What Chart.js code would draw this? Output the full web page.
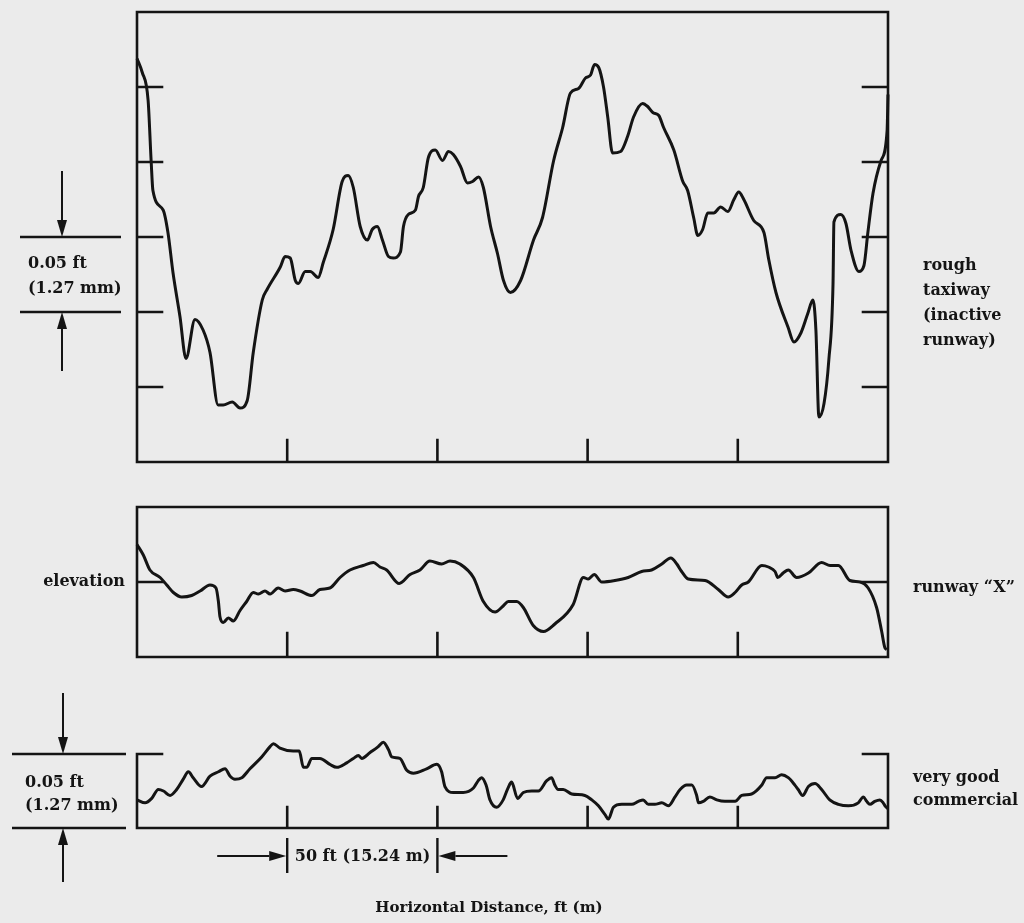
<!DOCTYPE html>
<html>
<head>
<meta charset="utf-8">
<title>Pavement profiles</title>
<script src="https://cdn.jsdelivr.net/npm/chart.js@4.4.1/dist/chart.umd.min.js"></script>
<style>
  html, body { margin: 0; padding: 0; background: #ebebeb; }
  #wrap { position: relative; width: 1024px; height: 923px; overflow: hidden; }
  canvas { position: absolute; left: 0; top: 0; }
  .lbl { position: absolute; font-family: "DejaVu Serif", serif; font-weight: bold; font-size: 16px; line-height: 18px; color: #141414; white-space: nowrap; }
</style>
</head>
<body>
<div id="wrap">
  <canvas id="roughChart" width="1024" height="923"></canvas>
  <canvas id="runwayChart" width="1024" height="923"></canvas>
  <canvas id="commercialChart" width="1024" height="923"></canvas>

  <div class="lbl" style="left:28px; top:254px;">0.05 ft</div>
  <div class="lbl" style="left:28px; top:279px;">(1.27 mm)</div>
  <div class="lbl" style="left:923px; top:252px; line-height:25px;">rough<br>taxiway<br>(inactive<br>runway)</div>

  <div class="lbl" style="right:899px; top:572px;">elevation</div>
  <div class="lbl" style="left:913px; top:578px;">runway “X”</div>

  <div class="lbl" style="left:25px; top:773px;">0.05 ft</div>
  <div class="lbl" style="left:25px; top:796px;">(1.27 mm)</div>
  <div class="lbl" style="left:913px; top:765px; line-height:23px;">very good<br>commercial</div>

  <div class="lbl" style="left:285px; width:155px; text-align:center; top:847px;">50 ft (15.24 m)</div>
  <div class="lbl" style="left:289px; width:400px; text-align:center; top:898px; font-size:15px;">Horizontal Distance, ft (m)</div>
</div>

<script>
// horizontal distance ticks, ft
const distTicks = [50, 100, 150, 200];

// rough taxiway (inactive runway): distance ft / elevation ft
const roughDist = [
  0, 1.7, 3.7, 4.7, 5.3, 8.7, 10.3, 12.0, 14.3, 16.3,
  19.3, 22.0, 24.3, 27.0, 28.7, 31.7, 34.3, 36.7, 38.7, 41.7,
  43.3, 47.7, 49.3, 51.0, 52.7, 53.7, 56.0, 57.7, 60.3, 62.0,
  65.3, 68.3, 70.3, 72.0, 74.3, 76.7, 78.3, 80.0, 81.7, 83.7,
  85.3, 87.7, 88.7, 90.3, 92.7, 93.7, 95.3, 97.0, 99.3, 101.7,
  103.7, 105.3, 107.7, 110.0, 111.7, 113.7, 115.3, 117.7, 120.0, 122.0,
  124.3, 127.7, 132.0, 135.0, 138.7, 141.7, 144.3, 147.0, 149.3, 151.0,
  152.3, 153.7, 155.3, 156.7, 158.3, 161.0, 163.3, 165.3, 168.3, 170.0,
  171.7, 173.7, 175.3, 178.7, 181.7, 183.3, 185.3, 186.7, 188.3, 190.0,
  192.0, 194.3, 196.7, 198.7, 200.3, 202.0, 205.3, 208.7, 210.3, 212.7,
  216.7, 218.7, 221.0, 223.3, 225.0, 226.0, 227.0, 228.7, 230.3, 231.7,
  232.0, 234.3, 236.0, 237.7, 240.3, 242.0, 243.3, 245.0, 247.7, 249.7,
  250.0
];
const roughElev = [
  0.269, 0.260, 0.241, 0.201, 0.181, 0.168, 0.153, 0.126, 0.097, 0.069,
  0.095, 0.088, 0.073, 0.038, 0.038, 0.040, 0.036, 0.041, 0.073, 0.108,
  0.115, 0.130, 0.137, 0.136, 0.121, 0.119, 0.127, 0.127, 0.123, 0.133,
  0.155, 0.187, 0.191, 0.183, 0.157, 0.148, 0.155, 0.157, 0.148, 0.137,
  0.136, 0.140, 0.157, 0.165, 0.168, 0.177, 0.183, 0.203, 0.208, 0.201,
  0.207, 0.205, 0.197, 0.186, 0.187, 0.190, 0.183, 0.157, 0.139, 0.121,
  0.113, 0.121, 0.148, 0.163, 0.201, 0.223, 0.246, 0.249, 0.256, 0.258,
  0.265, 0.263, 0.250, 0.230, 0.206, 0.207, 0.217, 0.230, 0.239, 0.237,
  0.233, 0.231, 0.223, 0.208, 0.187, 0.181, 0.163, 0.151, 0.155, 0.166,
  0.166, 0.170, 0.167, 0.175, 0.180, 0.175, 0.161, 0.153, 0.135, 0.113,
  0.090, 0.080, 0.086, 0.099, 0.108, 0.088, 0.030, 0.039, 0.068, 0.119,
  0.160, 0.165, 0.159, 0.141, 0.127, 0.131, 0.153, 0.179, 0.201, 0.221,
  0.245
];
const roughTicks = [0.05, 0.10, 0.15, 0.20, 0.25];

// runway "X"
const runwayDist = [
  0, 2.1, 4.3, 7.7, 9.9, 12.1, 14.9, 18.2, 21.0, 24.3,
  26.3, 27.1, 27.6, 28.7, 30.4, 32.1, 34.3, 36.5, 38.7, 40.4,
  42.6, 44.3, 47.0, 49.3, 52.0, 54.3, 58.2, 60.9, 64.2, 67.6,
  70.9, 75.3, 78.7, 80.9, 83.1, 87.3, 90.9, 94.2, 97.5, 101.4,
  104.2, 107.5, 112.0, 115.3, 119.2, 121.9, 123.6, 126.4, 128.6, 131.9,
  135.3, 139.1, 145.2, 148.6, 150.2, 152.2, 154.7, 159.1, 163.5, 168.0,
  171.3, 174.7, 177.7, 179.7, 181.3, 183.5, 189.1, 193.5, 196.8, 199.1,
  201.3, 203.5, 208.0, 210.2, 212.4, 213.3, 215.1, 216.8, 219.6, 223.5,
  227.9, 230.7, 233.5, 237.3, 240.7, 243.4, 246.2, 247.9, 249.0, 249.6
];
const runwayElev = [
  0.075, 0.068, 0.058, 0.053, 0.048, 0.043, 0.040, 0.041, 0.044, 0.048,
  0.046, 0.037, 0.027, 0.023, 0.026, 0.024, 0.031, 0.037, 0.043, 0.042,
  0.044, 0.042, 0.046, 0.044, 0.045, 0.044, 0.041, 0.045, 0.046, 0.053,
  0.058, 0.061, 0.063, 0.060, 0.058, 0.049, 0.055, 0.058, 0.064, 0.062,
  0.064, 0.062, 0.053, 0.037, 0.030, 0.034, 0.037, 0.037, 0.033, 0.021,
  0.017, 0.022, 0.035, 0.053, 0.052, 0.055, 0.050, 0.051, 0.053, 0.057,
  0.058, 0.062, 0.066, 0.062, 0.057, 0.052, 0.051, 0.045, 0.040, 0.043,
  0.048, 0.050, 0.061, 0.060, 0.057, 0.053, 0.056, 0.058, 0.053, 0.056,
  0.063, 0.061, 0.061, 0.051, 0.050, 0.046, 0.033, 0.017, 0.006, 0.005
];
const runwayTicks = [0.05];

// very good commercial
const commercialDist = [
  0, 2.7, 4.9, 7.1, 8.8, 11.0, 13.2, 15.4, 17.1, 18.7,
  21.5, 24.3, 27.1, 29.3, 31.0, 32.6, 34.9, 37.6, 41.5, 44.3,
  45.4, 47.6, 52.0, 54.0, 55.4, 56.5, 58.2, 60.9, 64.2, 66.5,
  69.8, 72.0, 73.7, 74.8, 77.6, 80.3, 82.0, 83.7, 84.8, 87.5,
  89.8, 92.0, 96.4, 99.8, 101.4, 102.5, 105.3, 108.6, 112.0, 113.6,
  114.7, 116.2, 117.5, 119.7, 121.9, 123.5, 124.7, 126.7, 128.6, 131.4,
  133.6, 136.4, 138.0, 139.1, 140.2, 141.9, 144.7, 149.1, 151.4, 153.6,
  155.8, 156.9, 158.6, 161.4, 164.7, 166.9, 168.5, 170.2, 172.4, 174.7,
  176.9, 179.1, 180.8, 183.0, 184.7, 186.3, 186.9, 188.5, 190.7, 193.0,
  195.7, 199.1, 201.3, 204.6, 208.0, 209.6, 212.4, 214.6, 216.8, 219.0,
  220.1, 221.6, 223.5, 225.7, 227.9, 230.6, 233.5, 236.8, 240.1, 241.8,
  242.9, 244.0, 245.6, 247.3, 248.4, 249.0, 250.0
];
const commercialElev = [
  0.019, 0.017, 0.020, 0.026, 0.025, 0.022, 0.026, 0.033, 0.038, 0.034,
  0.028, 0.035, 0.038, 0.040, 0.035, 0.033, 0.034, 0.040, 0.048, 0.055,
  0.057, 0.054, 0.052, 0.052, 0.041, 0.041, 0.047, 0.047, 0.043, 0.041,
  0.044, 0.047, 0.049, 0.047, 0.051, 0.055, 0.058, 0.053, 0.048, 0.047,
  0.039, 0.037, 0.040, 0.043, 0.038, 0.028, 0.024, 0.024, 0.027, 0.032,
  0.034, 0.029, 0.019, 0.014, 0.019, 0.027, 0.031, 0.020, 0.024, 0.025,
  0.025, 0.032, 0.034, 0.029, 0.026, 0.026, 0.023, 0.022, 0.019, 0.015,
  0.009, 0.006, 0.014, 0.016, 0.016, 0.018, 0.019, 0.016, 0.016, 0.017,
  0.015, 0.021, 0.026, 0.029, 0.029, 0.022, 0.017, 0.018, 0.021, 0.019,
  0.018, 0.018, 0.022, 0.023, 0.029, 0.034, 0.034, 0.036, 0.034, 0.029,
  0.026, 0.022, 0.028, 0.030, 0.026, 0.019, 0.016, 0.015, 0.017, 0.021,
  0.018, 0.016, 0.018, 0.019, 0.017, 0.015, 0.013
];

const INK = '#141414';

function toPoints(dist, elev) {
  return dist.map((d, i) => ({ x: d, y: elev[i] }));
}

// filled-head arrow, tip at (x2, y2)
function drawArrow(ctx, x1, y1, x2, y2) {
  const ang = Math.atan2(y2 - y1, x2 - x1);
  const head = 17, half = 5;
  const bx = x2 - head * Math.cos(ang), by = y2 - head * Math.sin(ang);
  ctx.beginPath();
  ctx.moveTo(x1, y1);
  ctx.lineTo(bx, by);
  ctx.stroke();
  ctx.beginPath();
  ctx.moveTo(x2, y2);
  ctx.lineTo(bx + half * Math.sin(ang), by - half * Math.cos(ang));
  ctx.lineTo(bx - half * Math.sin(ang), by + half * Math.cos(ang));
  ctx.closePath();
  ctx.fill();
}

// box, inward ticks and dimension marks
const framePlugin = {
  id: 'frame',
  afterDatasetsDraw(chart, args, opts) {
    const { ctx, chartArea: a, scales: { x, y } } = chart;
    ctx.save();
    ctx.strokeStyle = INK;
    ctx.fillStyle = INK;
    ctx.lineWidth = 2.6;
    ctx.lineCap = 'square';
    ctx.beginPath();
    if (opts.bracket) {
      ctx.moveTo(a.left + opts.bracket, a.top);
      ctx.lineTo(a.left, a.top);
      ctx.lineTo(a.left, a.bottom);
      ctx.lineTo(a.right, a.bottom);
      ctx.lineTo(a.right, a.top);
      ctx.lineTo(a.right - opts.bracket, a.top);
    } else {
      ctx.rect(a.left, a.top, a.right - a.left, a.bottom - a.top);
    }
    distTicks.forEach(v => {
      const px = x.getPixelForValue(v);
      ctx.moveTo(px, a.bottom);
      ctx.lineTo(px, a.bottom - opts.xTickLen);
    });
    (opts.yTicks || []).forEach(v => {
      const py = y.getPixelForValue(v);
      ctx.moveTo(a.left, py);
      ctx.lineTo(a.left + opts.yTickLen, py);
      ctx.moveTo(a.right, py);
      ctx.lineTo(a.right - opts.yTickLen, py);
    });
    ctx.stroke();

    // vertical scale bar at the left
    const sb = opts.scaleBar;
    if (sb) {
      const yTop = y.getPixelForValue(sb.values[0]);
      const yBot = y.getPixelForValue(sb.values[1]);
      ctx.lineWidth = 2.4;
      ctx.lineCap = 'butt';
      ctx.beginPath();
      ctx.moveTo(sb.x0, yTop); ctx.lineTo(sb.x1, yTop);
      ctx.moveTo(sb.x0, yBot); ctx.lineTo(sb.x1, yBot);
      ctx.stroke();
      ctx.lineWidth = 2;
      drawArrow(ctx, sb.arrowX, yTop - sb.reach[0], sb.arrowX, yTop);
      drawArrow(ctx, sb.arrowX, yBot + sb.reach[1], sb.arrowX, yBot);
    }

    // horizontal 50 ft span under the plot
    const sp = opts.span;
    if (sp) {
      const xa = x.getPixelForValue(sp.from);
      const xb = x.getPixelForValue(sp.to);
      const ym = a.bottom + sp.mid;
      ctx.lineWidth = 2.4;
      ctx.lineCap = 'butt';
      ctx.beginPath();
      ctx.moveTo(xa, a.bottom + sp.top); ctx.lineTo(xa, a.bottom + sp.bottom);
      ctx.moveTo(xb, a.bottom + sp.top); ctx.lineTo(xb, a.bottom + sp.bottom);
      ctx.stroke();
      ctx.lineWidth = 2;
      drawArrow(ctx, xa - sp.reach, ym, xa - 1, ym);
      drawArrow(ctx, xb + sp.reach, ym, xb + 1, ym);
    }
    ctx.restore();
  }
};

function makePanel(id, dist, elev, yMax, padding, frame) {
  return new Chart(document.getElementById(id), {
    type: 'line',
    data: {
      datasets: [{
        data: toPoints(dist, elev),
        borderColor: INK,
        borderWidth: 3,
        pointRadius: 0,
        cubicInterpolationMode: 'monotone',
        clip: false
      }]
    },
    options: {
      responsive: false,
      animation: false,
      devicePixelRatio: 1,
      layout: { padding: padding },
      plugins: { legend: { display: false }, tooltip: { enabled: false }, frame: frame },
      scales: {
        x: { type: 'linear', min: 0, max: 250, display: false },
        y: { type: 'linear', min: 0, max: yMax, display: false }
      }
    },
    plugins: [framePlugin]
  });
}

makePanel('roughChart', roughDist, roughElev, 0.30,
  { left: 137, right: 136, top: 12, bottom: 461 },
  { xTickLen: 22, yTicks: roughTicks, yTickLen: 25,
    scaleBar: { values: [0.15, 0.10], x0: 20, x1: 121, arrowX: 62, reach: [66, 59] } });

makePanel('runwayChart', runwayDist, runwayElev, 0.10,
  { left: 137, right: 136, top: 507, bottom: 266 },
  { xTickLen: 24, yTicks: runwayTicks, yTickLen: 26 });

makePanel('commercialChart', commercialDist, commercialElev, 0.05,
  { left: 137, right: 136, top: 754, bottom: 95 },
  { xTickLen: 21, bracket: 25,
    scaleBar: { values: [0.05, 0], x0: 12, x1: 126, arrowX: 63, reach: [61, 54] },
    span: { from: 50, to: 100, top: 10, bottom: 45, mid: 28, reach: 70 } });
</script>
</body>
</html>
